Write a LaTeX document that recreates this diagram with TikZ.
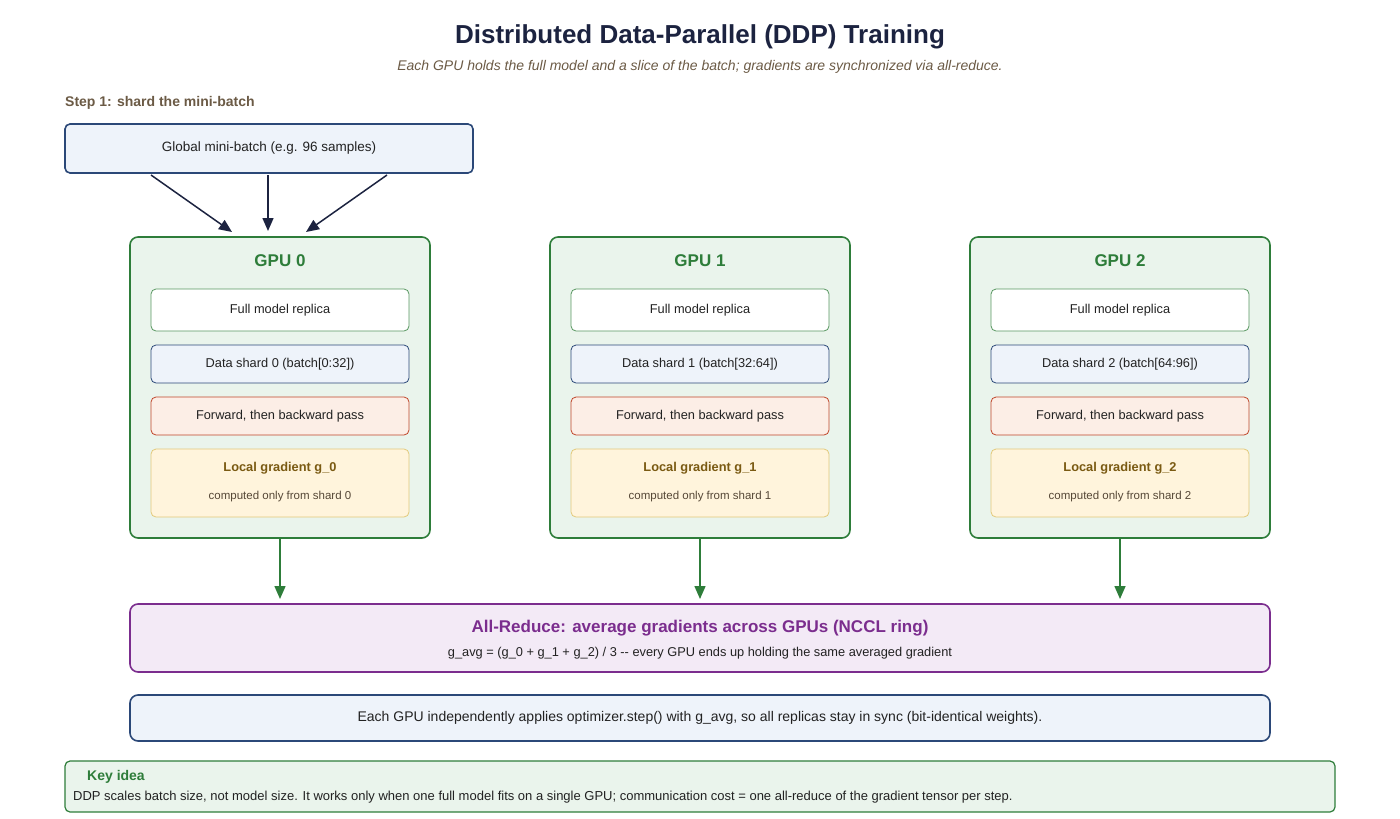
\documentclass[tikz,border=0pt]{standalone}
\usepackage{fontspec}
\setmainfont{Liberation Sans}
\usetikzlibrary{arrows.meta}
\definecolor{navy}{HTML}{1C2340}
\definecolor{brn}{HTML}{6B5A45}
\definecolor{gB}{HTML}{2E7D3A}\definecolor{gF}{HTML}{EAF4EC}
\definecolor{bB}{HTML}{2B4878}\definecolor{bF}{HTML}{EEF3FA}
\definecolor{rB}{HTML}{C0462A}\definecolor{rF}{HTML}{FCEEE6}
\definecolor{yB}{HTML}{E2C97A}\definecolor{yF}{HTML}{FFF4DC}\definecolor{yT}{HTML}{7A5A12}
\definecolor{pB}{HTML}{7B2D8E}\definecolor{pF}{HTML}{F3EAF6}
\definecolor{txt}{HTML}{222222}
\tikzset{
 bx/.style={draw, rounded corners=5pt, inner sep=0pt},
 gpu/.style={bx, draw=gB, fill=gF, line width=1.6pt, rounded corners=8pt},
 inner/.style={bx, line width=0.8pt, text=txt, font=\fontsize{12.8}{14}\selectfont, text depth=0pt, text height=6pt},
 arr/.style={-{Triangle[length=13pt,width=11pt]}, line width=1.5pt},
 lbl/.style={text depth=0pt, text height=6pt, inner sep=0pt},
}
\begin{document}
\begin{tikzpicture}[x=1pt,y=-1pt]
\useasboundingbox (0,0) rectangle (1400,819);
\node[lbl, font=\bfseries\fontsize{26}{28}\selectfont, text=navy, text height=12pt] (title) at (700,37) {Distributed Data-Parallel (DDP) Training};
\node[lbl, font=\itshape\fontsize{14}{16}\selectfont, text=brn] (sub) at (700,67) {Each GPU holds the full model and a slice of the batch; gradients are synchronized via all-reduce.};
\node[lbl, font=\bfseries\fontsize{14}{16}\selectfont, text=brn, anchor=west] (step) at (65,103) {Step 1: shard the mini-batch};
\node[bx, draw=bB, fill=bF, line width=1.6pt, minimum width=408pt, minimum height=49pt, font=\fontsize{13.5}{14}\selectfont, text=txt, text depth=0pt, text height=6pt] (glob) at (269,148.5) {Global mini-batch (e.g. 96 samples)};
\coordinate (s1) at (151,175); \coordinate (s2) at (268,175); \coordinate (s3) at (387,175);
\coordinate (t1) at (232,232); \coordinate (t2) at (268,231); \coordinate (t3) at (306,232);
\draw[arr, navy] (s1) -- (t1); \draw[arr, navy] (s2) -- (t2); \draw[arr, navy] (s3) -- (t3);
\foreach \i/\x/\a/\b in {0/280/0/32, 1/700/32/64, 2/1120/64/96}{
 \node[gpu, minimum width=300pt, minimum height=301pt] (gpu\i) at (\x,387.5) {};
 \node[lbl, font=\bfseries\fontsize{17}{18}\selectfont, text=gB] (gt\i) at (\x,263) {GPU \i};
 \node[inner, draw=gB!80, fill=white, minimum width=258pt, minimum height=42pt] (fm\i) at (\x,310) {Full model replica};
 \node[inner, draw=bB, fill=bF, minimum width=258pt, minimum height=38pt] (ds\i) at (\x,364) {Data shard \i\ (batch[\a:\b])};
 \node[inner, draw=rB, fill=rF, minimum width=258pt, minimum height=38pt] (fb\i) at (\x,416) {Forward, then backward pass};
 \node[inner, draw=yB, fill=yF, minimum width=258pt, minimum height=68pt] (lg\i) at (\x,483) {};
 \node[lbl, font=\bfseries\fontsize{12.8}{13}\selectfont, text=yT] (lgt\i) at (\x,468) {Local gradient g\_\i};
 \node[lbl, font=\fontsize{11.5}{12}\selectfont, text=brn!80!black] (lgs\i) at (\x,496) {computed only from shard \i};
 \coordinate (ar\i) at (\x,599);
 \draw[arr, gB] (gpu\i.south) -- (ar\i);
}
\node[bx, draw=pB, fill=pF, line width=1.6pt, rounded corners=8pt, minimum width=1140pt, minimum height=68pt] (allr) at (700,638) {};
\node[lbl, font=\bfseries\fontsize{17}{18}\selectfont, text=pB] (allrt) at (700,629) {All-Reduce: average gradients across GPUs (NCCL ring)};
\node[lbl, font=\fontsize{12.8}{13}\selectfont, text=txt] (allrs) at (700,653) {g\_avg = (g\_0 + g\_1 + g\_2) / 3 {-}{-} every GPU ends up holding the same averaged gradient};
\node[bx, draw=bB, fill=bF, line width=1.6pt, rounded corners=8pt, minimum width=1140pt, minimum height=46pt, font=\fontsize{14}{14}\selectfont, text=txt, text depth=0pt, text height=6pt] (opt) at (700,718) {Each GPU independently applies optimizer.step() with g\_avg, so all replicas stay in sync (bit-identical weights).};
\node[bx, draw=gB, fill=gF, line width=1.2pt, minimum width=1270pt, minimum height=51pt] (key) at (700,786.5) {};
\node[lbl, font=\bfseries\fontsize{14}{14}\selectfont, text=gB, anchor=west] (keyt) at (87,777) {Key idea};
\node[lbl, font=\fontsize{13}{13}\selectfont, text=txt, anchor=west] (keys) at (73,797) {DDP scales batch size, not model size. It works only when one full model fits on a single GPU; communication cost = one all-reduce of the gradient tensor per step.};
\end{tikzpicture}
\end{document}
